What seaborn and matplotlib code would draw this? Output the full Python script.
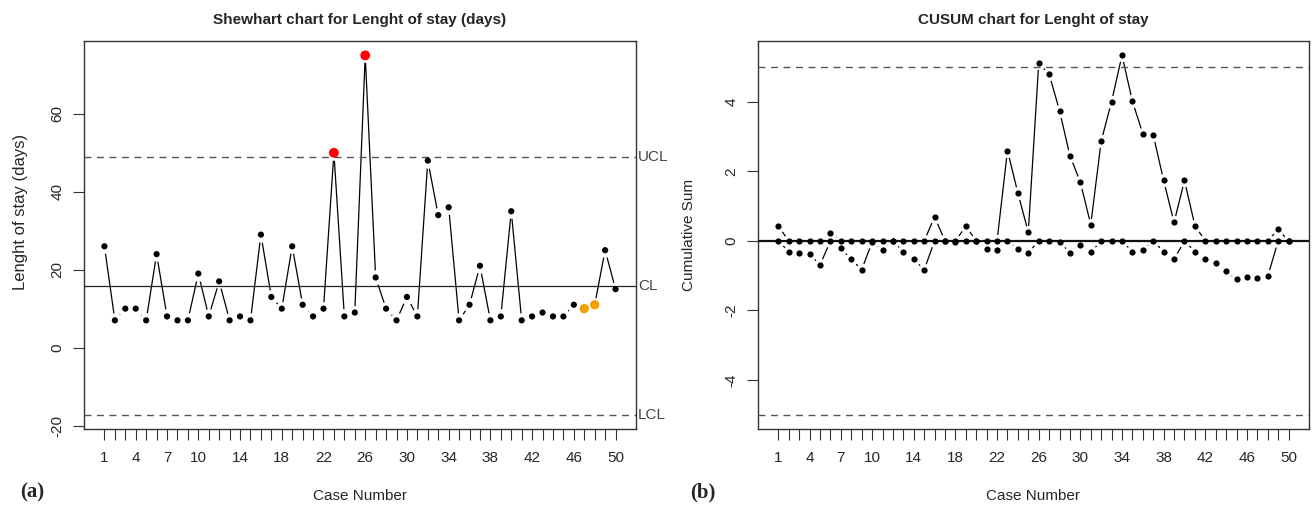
import seaborn as sns
from matplotlib import pyplot as plt
import matplotlib.transforms as mtransforms
import pandas as pd
import numpy as np

sns.set_theme(style='white')
plt.rcParams['font.family'] = ['Liberation Sans', 'DejaVu Sans']
plt.rcParams['axes.unicode_minus'] = False

# data
cases = list(range(1, 51))
stay = [26, 7, 10, 10, 7, 24, 8, 7, 7, 19,
        8, 17, 7, 8, 7, 29, 13, 10, 26, 11,
        8, 10, 50, 8, 9, 75, 18, 10, 7, 13,
        8, 48, 34, 36, 7, 11, 21, 7, 8, 35,
        7, 8, 9, 8, 8, 11, 10, 11, 25, 15]
warning_cases = [47, 48]
ucl, cl, lcl = 49.0, 15.9, -17.2

cusum_upper = [0.42, 0, 0, 0, 0, 0.24, 0, 0, 0, 0,
               0, 0, 0, 0, 0, 0.69, 0, 0, 0.42, 0,
               0, 0, 2.60, 1.38, 0.25, 5.11, 4.80, 3.75, 2.45, 1.69,
               0.47, 2.87, 4.01, 5.34, 4.02, 3.08, 3.05, 1.74, 0.53, 1.74,
               0.44, 0, 0, 0, 0, 0, 0, 0, 0.33, 0]
cusum_lower = [0, -0.31, -0.34, -0.38, -0.69, 0, -0.21, -0.53, -0.83, -0.03,
               -0.27, 0, -0.31, -0.53, -0.83, 0, 0, -0.03, 0, 0,
               -0.23, -0.26, 0, -0.23, -0.34, 0, 0, -0.03, -0.34, -0.11,
               -0.33, 0, 0, 0, -0.31, -0.26, 0, -0.31, -0.53, 0,
               -0.31, -0.53, -0.65, -0.88, -1.10, -1.04, -1.08, -1.02, 0, 0]
h_limit = 5.0

tick_labels = [1, 4, 7, 10, 14, 18, 22, 26, 30, 34, 38, 42, 46, 50]

df = pd.DataFrame({'case': cases, 'stay': stay})
df['status'] = 'ok'
df.loc[df['case'].isin(warning_cases), 'status'] = 'warn'
df.loc[(df['stay'] > ucl) | (df['stay'] < lcl), 'status'] = 'out'

cus = pd.DataFrame({'case': cases * 2,
                    'value': cusum_upper + cusum_lower,
                    'side': ['upper'] * 50 + ['lower'] * 50})

fig = plt.figure(figsize=(13.14, 5.09), dpi=100)
ax1 = fig.add_axes([84 / 1314, 80 / 509, 552 / 1314, 388 / 509])
ax2 = fig.add_axes([758 / 1314, 80 / 509, 551 / 1314, 388 / 509])

grey = '#555555'


def r_limits(lo, hi):
    pad = (hi - lo) * 0.04
    return lo - pad, hi + pad


def style_axis(ax):
    for s in ax.spines.values():
        s.set_color('#333333')
        s.set_linewidth(1.0)
    ax.set_xlim(*r_limits(1, 50))
    ax.set_xticks(cases)
    ax.set_xticklabels([str(c) if c in tick_labels else '' for c in cases], fontsize=11)
    ax.tick_params(axis='both', direction='out', length=8, width=0.8,
                   color='#333333', bottom=True, left=True)
    ax.tick_params(axis='x', pad=8)
    ax.tick_params(axis='y', labelsize=11, pad=6)
    for lab in ax.get_yticklabels():
        lab.set_rotation(90)
        lab.set_va('center')
    ax.set_xlabel('Case Number', fontsize=11, labelpad=17)
    ax.grid(False)


# ---- (a) Shewhart chart ----
sns.lineplot(data=df, x='case', y='stay', ax=ax1, color='black', lw=0.9, zorder=1)
sns.scatterplot(data=df, x='case', y='stay', ax=ax1, color='white', s=110,
                linewidth=0, zorder=2, legend=False)
ax1.axhline(cl, color='#222222', lw=0.9, zorder=3)
ax1.axhline(ucl, color=grey, lw=1.0, ls=(0, (5, 4)), zorder=3)
ax1.axhline(lcl, color=grey, lw=1.0, ls=(0, (5, 4)), zorder=3)
sns.scatterplot(data=df, x='case', y='stay', ax=ax1, hue='status', size='status',
                palette={'ok': 'black', 'out': '#ff0000', 'warn': '#f5a000'},
                sizes={'ok': 20, 'out': 50, 'warn': 45},
                linewidth=0, zorder=4, legend=False)
ax1.set_ylim(*r_limits(min(lcl, min(stay)), max(ucl, max(stay))))
ax1.set_yticks([-20, 0, 20, 40, 60])
style_axis(ax1)
ax1.set_ylabel('Lenght of stay (days)', fontsize=12)
ax1.yaxis.set_label_coords(-56 / 552, (429 - 212) / 388)
ax1.set_title('Shewhart chart for Lenght of stay (days)', fontsize=11,
              fontweight='bold', pad=12)
trans = mtransforms.blended_transform_factory(ax1.transAxes, ax1.transData)
for val, lab in [(ucl, 'UCL'), (cl, 'CL'), (lcl, 'LCL')]:
    ax1.text(1.004, val, lab, transform=trans, ha='left', va='center',
             fontsize=11, color='#444444')

# ---- (b) CUSUM chart ----
sns.lineplot(data=cus, x='case', y='value', units='side', estimator=None, ax=ax2,
             color='black', lw=0.9, zorder=1)
sns.scatterplot(data=cus, x='case', y='value', ax=ax2, color='white', s=90,
                linewidth=0, zorder=2, legend=False)
ax2.axhline(0, color='#111111', lw=1.6, zorder=3)
ax2.axhline(h_limit, color=grey, lw=1.0, ls=(0, (5, 4)), zorder=3)
ax2.axhline(-h_limit, color=grey, lw=1.0, ls=(0, (5, 4)), zorder=3)
sns.scatterplot(data=cus, x='case', y='value', ax=ax2, color='black', s=20,
                linewidth=0, zorder=4, legend=False)
ax2.set_ylim(*r_limits(min(-h_limit, min(cusum_lower)), max(h_limit, max(cusum_upper))))
ax2.set_yticks([-4, -2, 0, 2, 4])
style_axis(ax2)
ax2.set_ylabel('Cumulative Sum', fontsize=11)
ax2.yaxis.set_label_coords(-62 / 551, 0.5)
ax2.set_title('CUSUM chart for Lenght of stay', fontsize=11,
              fontweight='bold', pad=12)

fig.text(20 / 1314, 1 - 492 / 509, '(a)', fontsize=15, fontweight='bold',
         family=['Liberation Serif', 'DejaVu Serif'], va='center', ha='left')
fig.text(690 / 1314, 1 - 492 / 509, '(b)', fontsize=15, fontweight='bold',
         family=['Liberation Serif', 'DejaVu Serif'], va='center', ha='left')

plt.savefig('out.png', dpi=100)
